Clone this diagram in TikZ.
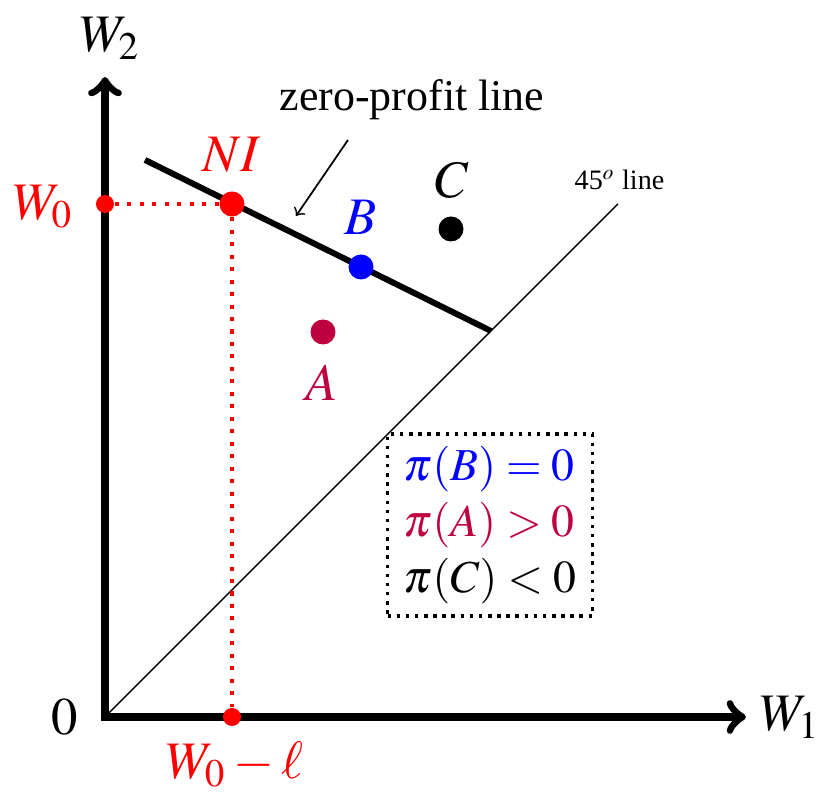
\documentclass[tikz,border=0pt]{standalone}
\usepackage{mathptmx}
\usepackage{fontspec}
\setmainfont{Liberation Serif}
\usetikzlibrary{positioning}

\tikzset{
  ball/.style={circle, fill=#1, inner sep=0pt, minimum size=2.5mm},
  smallball/.style={circle, fill=#1, inner sep=0pt, minimum size=1.8mm},
  reddots/.style={red, line width=1.15pt, dash pattern=on 1.15pt off 2.4pt},
}

\begin{document}
\begin{tikzpicture}[>=to, font=\fontsize{15}{16}\selectfont]
	\useasboundingbox (-1.05,-0.81) rectangle (7.20,7.17);

	% axes
	\draw[<->, line width=2.3pt] (0,6.4) -- (0,0) -- (6.41,0);
	\node (w2lab) at (0.05,6.79) {$W_2$};
	\node (w1lab) at (6.85,0) {$W_1$};
	\node (olab) at (-0.40,0) {$0$};

	% 45 degree line
	\coordinate (O) at (0,0);
	\coordinate (top45) at (5.13,5.13);
	\draw[line width=0.4pt] (O) -- (top45);
	\node[anchor=base west, inner sep=0pt, font=\fontsize{8}{10}\selectfont] (lab45) at (4.69,5.27) {45$^o$ line};

	% zero-profit line
	\coordinate (zpl) at (0.40,5.57);
	\coordinate (zpr) at (3.86,3.86);
	\draw[line width=1.7pt] (zpl) -- (zpr);
	\node[font=\fontsize{12.5}{14}\selectfont] (zplab) at (3.07,6.17) {zero-profit line};
	\coordinate (arrs) at (2.43,5.77);
	\coordinate (arre) at (1.91,5.01);
	\draw[->, line width=0.5pt] (arrs) -- (arre);

	% no insurance point and its projections
	\node[ball=red] (NI) at (1.27,5.13) {};
	\node[smallball=red] (W0) at (0,5.13) {};
	\node[smallball=red] (Wl) at (1.27,0) {};
	\draw[reddots] (W0) -- (NI);
	\draw[reddots] (NI) -- (Wl);
	\node[red] (NIlab) at (1.27,5.62) {$NI$};
	\node[red] (W0lab) at (-0.62,5.10) {$W_0$};
	\node[red] (Wllab) at (1.30,-0.48) {$W_0-\ell$};

	% contracts
	\node[ball=blue] (B) at (2.56,4.50) {};
	\node[blue] (Blab) at (2.56,5.00) {$B$};
	\node[ball=black] (C) at (3.46,4.88) {};
	\node (Clab) at (3.47,5.37) {$C$};
	\node[ball=purple] (A) at (2.18,3.85) {};
	\node[purple] (Alab) at (2.17,3.34) {$A$};

	% profits
	\node[draw, line width=1pt, dash pattern=on 1pt off 1.6pt, align=left,
		font=\fontsize{13}{16}\selectfont,
		minimum width=2.05cm, minimum height=1.56cm] (legend) at (3.85,1.92)
		{\textcolor{blue}{$\pi(B)=0$}\\ \textcolor{purple}{$\pi(A)>0$}\\ $\pi(C)<0$};
\end{tikzpicture}
\end{document}
